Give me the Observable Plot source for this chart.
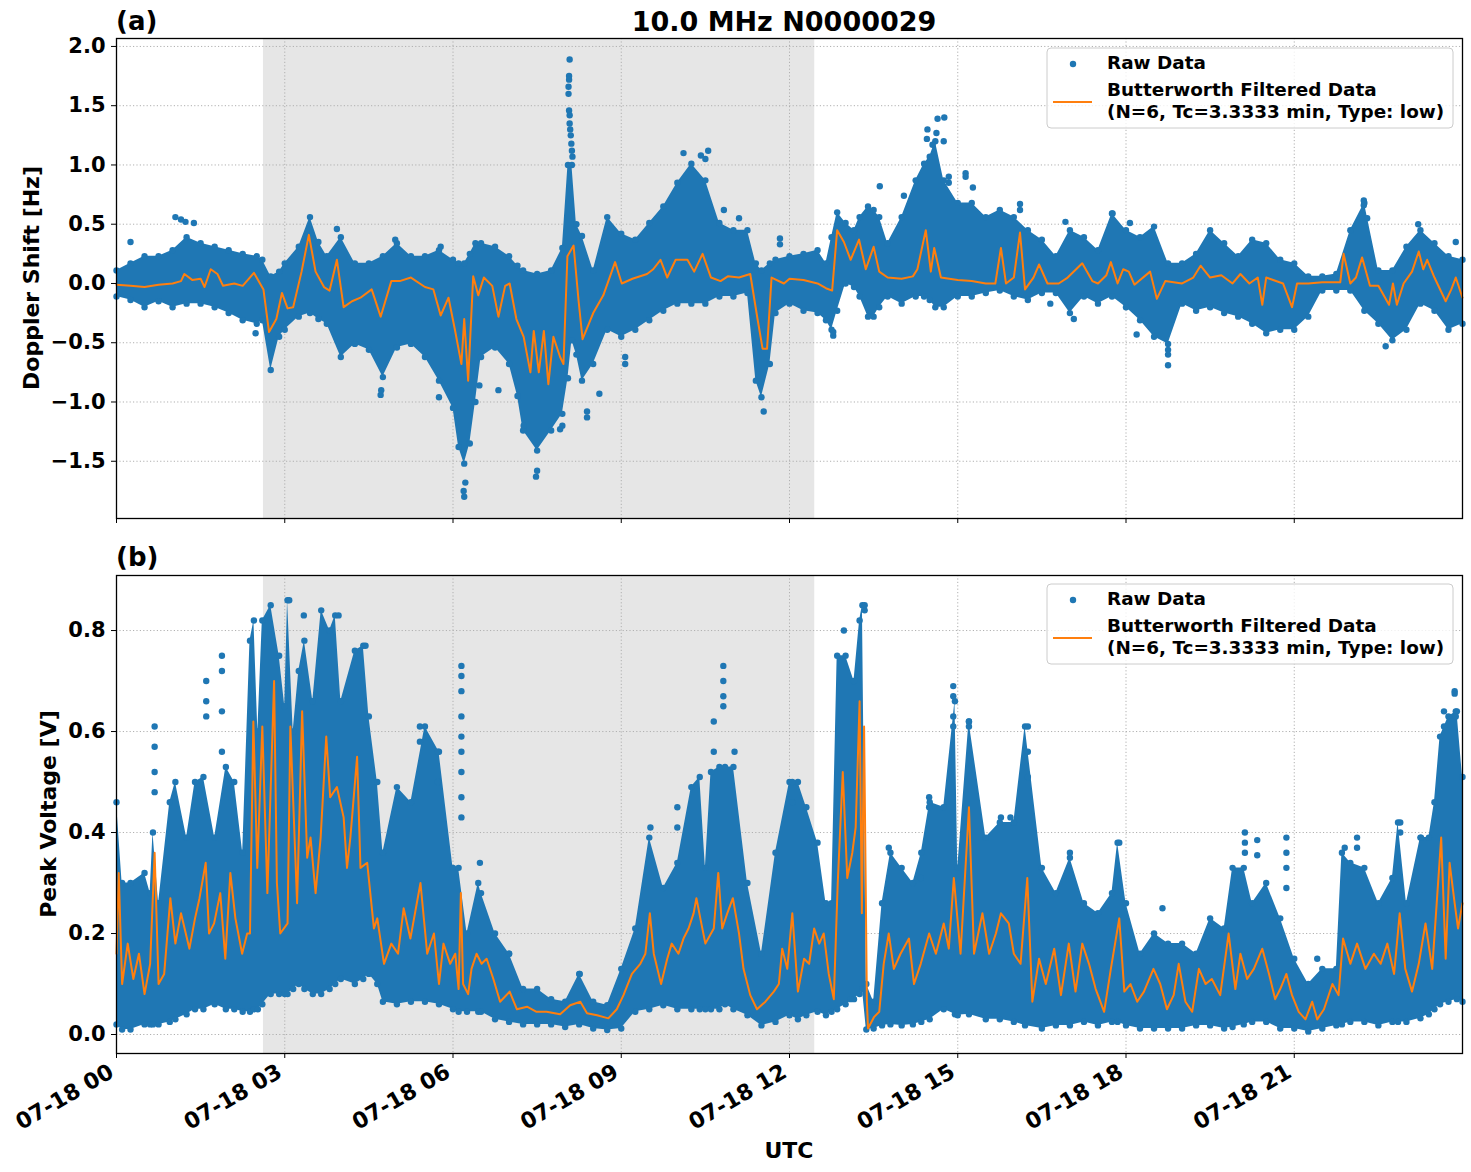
<!DOCTYPE html>
<html>
<head>
<meta charset="utf-8">
<script src="https://cdn.jsdelivr.net/npm/d3@7"></script>
<script src="https://cdn.jsdelivr.net/npm/@observablehq/plot@0.6"></script>
<style>
  body { margin: 0; background: #fff; }
  #fig { position: relative; width: 1471px; height: 1172px; font-family: "DejaVu Sans", sans-serif; font-weight: bold; }
  #fig svg { position: absolute; left: 0; }
</style>
</head>
<body>
<div id="fig"></div>
<script>
// ---------- axes ----------
const xTicks = [0, 3, 6, 9, 12, 15, 18, 21];
const xTickLabels = ["07-18 00", "07-18 03", "07-18 06", "07-18 09", "07-18 12", "07-18 15", "07-18 18", "07-18 21"];
const dopplerTicks = [-1.5, -1.0, -0.5, 0.0, 0.5, 1.0, 1.5, 2.0];
const voltageTicks = [0.0, 0.2, 0.4, 0.6, 0.8];
const shadedHours = [2.62, 12.45];   // grey interval, hours UTC

// ---------- (a) Doppler shift: dense raw-data band [hour, upper, lower] ----------
const dopplerBand = [
  [0,0.11,-0.11],[0.25,0.17,-0.14],[0.5,0.23,-0.20],[0.75,0.23,-0.15],[1,0.28,-0.20],[1.25,0.39,-0.17],
  [1.5,0.34,-0.17],[1.75,0.31,-0.20],[2,0.28,-0.25],[2.25,0.25,-0.31],[2.5,0.23,-0.34],[2.6,0.20,-0.31],
  [2.75,0.06,-0.73],[2.9,0.10,-0.45],[3,0.17,-0.39],[3.25,0.31,-0.28],[3.45,0.56,-0.25],[3.6,0.35,-0.30],
  [3.75,0.23,-0.34],[4,0.39,-0.62],[4.25,0.17,-0.51],[4.5,0.17,-0.56],[4.75,0.23,-0.79],[5,0.34,-0.54],
  [5.25,0.23,-0.51],[5.5,0.23,-0.62],[5.75,0.28,-0.82],[6,0.20,-1.05],[6.1,0.17,-1.38],[6.2,0.17,-1.52],
  [6.3,0.25,-1.35],[6.4,0.34,-1.00],[6.5,0.34,-0.62],[6.75,0.31,-0.54],[7,0.23,-0.68],[7.15,0.15,-0.95],
  [7.25,0.11,-1.24],[7.5,0.08,-1.41],[7.75,0.11,-1.24],[7.95,0.30,-1.10],[8.05,1.00,-0.80],[8.12,1.00,-0.48],
  [8.2,0.50,-0.60],[8.3,0.40,-0.82],[8.5,0.11,-0.68],[8.75,0.56,-0.39],[9,0.42,-0.45],[9.25,0.37,-0.39],
  [9.5,0.51,-0.31],[9.75,0.65,-0.23],[10,0.85,-0.17],[10.25,1.01,-0.17],[10.5,0.87,-0.17],[10.75,0.51,-0.11],
  [11,0.45,-0.11],[11.25,0.45,-0.08],[11.4,0.17,-0.82],[11.5,0.11,-0.96],[11.65,0.17,-0.68],[11.75,0.20,-0.25],
  [12,0.23,-0.17],[12.25,0.25,-0.23],[12.5,0.28,-0.25],[12.65,0.17,-0.31],[12.75,0.39,-0.39],[12.85,0.60,-0.23],
  [13,0.51,0.00],[13.15,0.45,-0.03],[13.25,0.56,-0.11],[13.4,0.65,-0.28],[13.5,0.62,-0.28],[13.6,0.56,-0.20],
  [13.75,0.34,-0.11],[14,0.56,-0.17],[14.25,0.87,-0.11],[14.4,1.01,-0.11],[14.5,1.07,-0.14],[14.6,1.20,-0.20],
  [14.75,0.87,-0.20],[15,0.68,-0.11],[15.25,0.68,-0.11],[15.5,0.56,-0.08],[15.75,0.62,-0.06],[16,0.56,-0.11],
  [16.25,0.45,-0.14],[16.5,0.37,-0.08],[16.75,0.23,-0.08],[17,0.45,-0.25],[17.25,0.39,-0.11],[17.5,0.28,-0.17],
  [17.75,0.59,-0.11],[18,0.45,-0.20],[18.25,0.39,-0.31],[18.5,0.48,-0.45],[18.75,0.17,-0.51],[19,0.17,-0.17],
  [19.25,0.25,-0.23],[19.5,0.45,-0.20],[19.75,0.34,-0.25],[20,0.23,-0.28],[20.25,0.37,-0.34],[20.5,0.34,-0.42],
  [20.75,0.20,-0.39],[21,0.17,-0.39],[21.25,0.06,-0.28],[21.5,0.06,-0.06],[21.75,0.08,-0.06],[22,0.45,-0.06],
  [22.25,0.68,-0.23],[22.5,0.11,-0.34],[22.75,0.11,-0.48],[23,0.31,-0.39],[23.25,0.45,-0.17],[23.5,0.34,-0.23],
  [23.75,0.23,-0.39],[24,0.20,-0.34]
];

// (a) isolated raw samples outside the band [hour, Hz]
const dopplerSparse = [
  [0.25,0.35],[1.05,0.56],[1.15,0.54],[1.23,0.52],[1.38,0.51],[2.48,-0.42],[3.93,0.46],[4.97,0.37],
  [4.71,-0.94],[4.72,-0.90],[5.75,-0.96],[5.78,0.31],[6.2,-1.80],[6.19,-1.75],[6.22,-1.68],[7.48,-1.63],
  [7.5,-1.58],[8.39,-1.13],[8.39,-1.08],[9.07,-0.68],[9.07,-0.62],[10.11,1.10],[10.55,1.12],[10.42,1.08],
  [10.5,1.05],[11.54,-1.08],[10.83,0.62],[11.1,0.55],[11.83,0.38],[11.83,0.33],[8.61,-0.93],[6.81,-0.90],
  [6.47,-0.86],[7.26,-1.20],[7.91,-1.23],[7.95,-1.20],
  [8.08,1.89],[8.07,1.75],[8.07,1.72],[8.06,1.66],[8.06,1.60],[8.07,1.46],[8.08,1.42],[8.08,1.35],
  [8.09,1.30],[8.10,1.25],[8.11,1.18],[8.12,1.12],[8.13,1.07],
  [14.64,1.39],[14.76,1.40],[14.46,1.30],[14.62,1.27],[14.75,1.20],[14.45,1.22],[14.55,1.17],[13.61,0.82],
  [14.04,0.74],[15.14,0.93],[15.14,0.90],[15.27,0.81],[14.84,0.90],[14.84,0.85],[12.78,-0.44],[12.78,-0.41],
  [16.92,0.52],[17.07,-0.30],[16.65,-0.17],[17.76,0.59],[16.11,0.67],[16.11,0.62],
  [22.24,0.70],[22.24,0.66],[18.75,-0.69],[18.75,-0.56],[18.75,-0.60],[22.63,-0.53],[18.07,0.51],[18.19,-0.43],
  [23.21,0.50],[23.88,0.35],[22.3,0.55]
];

// (a) Butterworth low-pass output [hour, Hz]
const dopplerFiltered = [
  [0,-0.01],[0.25,-0.02],[0.5,-0.03],[0.75,-0.01],[1,0],[1.15,0.02],[1.21,0.08],[1.35,0.03],[1.5,0.04],
  [1.57,-0.03],[1.68,0.12],[1.8,0.08],[1.9,-0.02],[2.1,0],[2.25,-0.02],[2.45,0.09],[2.62,-0.05],[2.72,-0.41],
  [2.85,-0.30],[2.95,-0.08],[3.05,-0.21],[3.15,-0.20],[3.3,0.10],[3.43,0.41],[3.55,0.10],[3.7,-0.03],[3.8,-0.06],
  [3.93,0.20],[4.05,-0.20],[4.2,-0.15],[4.35,-0.12],[4.55,-0.05],[4.71,-0.28],[4.9,0.02],[5.05,0.02],[5.25,0.05],
  [5.5,-0.03],[5.65,-0.05],[5.78,-0.27],[5.92,-0.12],[6.03,-0.38],[6.15,-0.68],[6.2,-0.30],[6.27,-0.82],
  [6.36,0.06],[6.45,-0.10],[6.55,0.05],[6.7,-0.02],[6.81,-0.28],[6.93,-0.02],[7.01,0],[7.13,-0.30],[7.26,-0.45],
  [7.38,-0.75],[7.44,-0.40],[7.53,-0.75],[7.62,-0.40],[7.7,-0.85],[7.79,-0.45],[7.91,-0.62],[7.97,-0.68],
  [8.04,0.23],[8.15,0.32],[8.24,-0.15],[8.31,-0.47],[8.5,-0.25],[8.68,-0.10],[8.89,0.18],[9.01,0],[9.2,0.04],
  [9.46,0.08],[9.57,0.12],[9.7,0.20],[9.82,0.05],[9.97,0.20],[10.18,0.20],[10.3,0.10],[10.45,0.25],[10.6,0.05],
  [10.77,0.02],[10.9,0.06],[11.1,0.05],[11.3,0.08],[11.43,-0.30],[11.52,-0.55],[11.6,-0.55],[11.68,0.05],
  [11.9,0],[12,0.04],[12.25,0.03],[12.5,0],[12.65,-0.04],[12.76,-0.06],[12.85,0.45],[12.97,0.35],[13.09,0.20],
  [13.24,0.37],[13.36,0.12],[13.5,0.31],[13.6,0.10],[13.75,0.05],[14,0.04],[14.2,0.06],[14.28,0.12],[14.43,0.45],
  [14.52,0.10],[14.58,0.30],[14.7,0.05],[15,0.03],[15.25,0.02],[15.5,0],[15.67,0],[15.77,0.30],[15.86,0],
  [16,0.05],[16.11,0.43],[16.2,-0.05],[16.35,0.05],[16.45,0.16],[16.6,0],[16.8,0],[16.96,0.05],[17.22,0.17],
  [17.4,0.02],[17.5,0],[17.65,0.07],[17.73,0.18],[17.85,0],[17.95,0.12],[18.05,0.10],[18.15,-0.01],[18.43,0.10],
  [18.55,-0.13],[18.7,0.02],[18.85,0.01],[19,0],[19.2,0.05],[19.33,0.15],[19.5,0.05],[19.7,0.07],[19.9,0],
  [20.04,0.08],[20.2,0],[20.35,0.05],[20.43,-0.18],[20.5,0.05],[20.8,0],[20.96,-0.20],[21.05,0],[21.25,0],
  [21.5,0.01],[21.75,0.01],[21.82,0.01],[21.88,0.25],[22,0],[22.1,0.05],[22.21,0.22],[22.35,-0.02],[22.5,-0.02],
  [22.69,-0.18],[22.76,0],[22.83,-0.18],[22.95,0],[23.1,0.10],[23.22,0.27],[23.3,0.12],[23.37,0.20],[23.5,0.05],
  [23.7,-0.15],[23.8,-0.05],[23.88,0.05],[24,-0.12]
];

// ---------- (b) Peak voltage: dense raw-data band [hour, upper, lower] ----------
const voltageBand = [
  [0,0.46,0.02],[0.1,0.30,0.01],[0.25,0.30,0.01],[0.5,0.32,0.02],[0.6,0.28,0.02],[0.65,0.40,0.02],[0.75,0.26,0.02],
  [0.95,0.46,0.025],[1.05,0.50,0.03],[1.25,0.39,0.04],[1.4,0.50,0.05],[1.55,0.51,0.05],[1.75,0.39,0.06],
  [1.95,0.53,0.05],[2.1,0.50,0.05],[2.25,0.36,0.045],[2.38,0.78,0.045],[2.45,0.82,0.05],[2.52,0.60,0.05],
  [2.6,0.82,0.06],[2.75,0.85,0.08],[2.9,0.75,0.08],[3,0.65,0.08],[3.05,0.86,0.08],[3.15,0.60,0.09],[3.25,0.72,0.10],
  [3.35,0.78,0.09],[3.5,0.66,0.08],[3.65,0.84,0.08],[3.8,0.80,0.09],[3.9,0.83,0.10],[4,0.66,0.11],[4.25,0.76,0.10],
  [4.4,0.77,0.11],[4.5,0.63,0.12],[4.65,0.50,0.10],[4.75,0.36,0.065],[5,0.49,0.06],[5.25,0.46,0.065],
  [5.5,0.61,0.065],[5.75,0.56,0.06],[6,0.33,0.05],[6.1,0.33,0.045],[6.25,0.20,0.045],[6.45,0.30,0.045],
  [6.5,0.28,0.045],[6.75,0.20,0.03],[7,0.16,0.025],[7.25,0.09,0.02],[7.5,0.09,0.02],[7.75,0.07,0.02],
  [8,0.065,0.015],[8.25,0.12,0.02],[8.5,0.065,0.012],[8.75,0.058,0.009],[9,0.13,0.012],[9.25,0.21,0.045],
  [9.5,0.39,0.05],[9.75,0.29,0.058],[10,0.34,0.05],[10.25,0.49,0.05],[10.4,0.51,0.05],[10.5,0.33,0.05],
  [10.6,0.52,0.05],[10.75,0.53,0.05],[10.85,0.53,0.06],[11,0.53,0.05],[11.25,0.30,0.038],[11.5,0.16,0.018],
  [11.75,0.36,0.025],[12,0.50,0.038],[12.15,0.50,0.03],[12.3,0.45,0.038],[12.5,0.38,0.045],[12.65,0.26,0.038],
  [12.75,0.26,0.045],[12.85,0.75,0.05],[13,0.75,0.06],[13.15,0.70,0.07],[13.25,0.82,0.08],[13.3,0.85,0.09],
  [13.37,0.10,0.01],[13.5,0.065,0.012],[13.65,0.26,0.018],[13.8,0.36,0.02],[14,0.33,0.018],[14.2,0.30,0.02],
  [14.35,0.36,0.025],[14.5,0.46,0.03],[14.75,0.45,0.05],[14.95,0.66,0.04],[15,0.33,0.038],[15.2,0.62,0.04],
  [15.5,0.39,0.03],[15.75,0.42,0.03],[16,0.42,0.025],[16.2,0.61,0.018],[16.5,0.33,0.012],[16.75,0.28,0.018],
  [17,0.35,0.018],[17.25,0.26,0.025],[17.5,0.24,0.018],[17.75,0.28,0.025],[17.85,0.38,0.025],[18,0.26,0.018],
  [18.25,0.16,0.012],[18.5,0.20,0.012],[18.75,0.18,0.012],[19,0.18,0.012],[19.25,0.16,0.018],[19.5,0.23,0.018],
  [19.75,0.21,0.012],[19.9,0.33,0.015],[20.1,0.33,0.02],[20.25,0.26,0.025],[20.5,0.30,0.025],[20.75,0.23,0.012],
  [21,0.15,0.012],[21.25,0.10,0.006],[21.5,0.13,0.012],[21.75,0.13,0.018],[21.85,0.36,0.02],[22,0.34,0.025],
  [22.25,0.33,0.025],[22.5,0.26,0.018],[22.75,0.31,0.025],[22.85,0.42,0.025],[23,0.26,0.025],[23.25,0.39,0.032],
  [23.4,0.39,0.04],[23.5,0.46,0.05],[23.6,0.59,0.06],[23.75,0.63,0.065],[23.9,0.64,0.07],[24,0.51,0.065]
];

// (b) isolated raw samples above the band [hour, V]
const voltageSparse = [
  [0.68,0.61],[0.68,0.57],[0.68,0.52],[0.68,0.48],[1.6,0.70],[1.6,0.66],[1.6,0.63],[1.88,0.75],[1.88,0.72],
  [1.88,0.64],[1.88,0.56],[3.34,0.83],[3.96,0.83],[4.44,0.77],[5.41,0.61],[5.41,0.58],[5.73,0.56],[5.73,0.50],
  [3.08,0.86],[6.15,0.73],[6.15,0.71],[6.15,0.68],[6.15,0.63],[6.15,0.59],[6.15,0.56],[6.15,0.52],[6.15,0.47],
  [6.15,0.43],[10.82,0.73],[10.82,0.70],[10.82,0.67],[10.82,0.65],[10.65,0.62],[10.65,0.56],[11.02,0.56],
  [12.05,0.50],[12.05,0.46],[9.52,0.41],[10.0,0.45],[10.0,0.41],[6.48,0.34],[7.0,0.16],[8.26,0.12],
  [13.34,0.85],[13.34,0.84],[12.97,0.80],[14.92,0.69],[14.92,0.67],[14.92,0.63],[14.92,0.61],[15.2,0.62],
  [15.2,0.61],[16.25,0.61],[16.25,0.56],[16.25,0.51],[15.77,0.43],[15.94,0.43],[14.49,0.47],[14.49,0.45],
  [17.0,0.36],[17.88,0.38],[13.77,0.37],[14.34,0.31],[13.09,0.07],
  [23.86,0.68],[23.86,0.675],[23.67,0.64],[23.67,0.61],[23.88,0.64],[23.88,0.63],[20.12,0.40],[20.12,0.38],
  [20.12,0.36],[20.34,0.385],[20.34,0.355],[20.86,0.39],[20.86,0.36],[20.86,0.33],[20.86,0.29],[22.12,0.39],
  [22.12,0.37],[21.9,0.37],[22.89,0.42],[22.89,0.40],[23.26,0.39],[18.65,0.25],[21.41,0.15]
];

// (b) Butterworth low-pass output [hour, V]
const voltageFiltered = [
  [0,0.16],[0.04,0.32],[0.1,0.10],[0.2,0.18],[0.3,0.11],[0.4,0.16],[0.5,0.08],[0.6,0.14],[0.68,0.36],[0.75,0.10],
  [0.85,0.12],[0.96,0.27],[1.05,0.18],[1.15,0.24],[1.3,0.17],[1.4,0.23],[1.48,0.27],[1.59,0.34],[1.65,0.20],
  [1.74,0.22],[1.85,0.28],[1.94,0.15],[2.03,0.32],[2.12,0.23],[2.24,0.16],[2.33,0.20],[2.38,0.20],[2.44,0.62],
  [2.51,0.33],[2.6,0.61],[2.69,0.28],[2.81,0.70],[2.86,0.30],[2.92,0.20],[3.05,0.22],[3.1,0.61],[3.22,0.26],
  [3.31,0.64],[3.4,0.35],[3.46,0.39],[3.55,0.28],[3.64,0.39],[3.74,0.59],[3.81,0.47],[3.93,0.49],[4.05,0.43],
  [4.11,0.33],[4.17,0.39],[4.29,0.55],[4.35,0.33],[4.47,0.34],[4.59,0.21],[4.65,0.23],[4.77,0.14],[4.9,0.18],
  [5.02,0.16],[5.12,0.25],[5.24,0.19],[5.42,0.30],[5.54,0.16],[5.66,0.20],[5.75,0.10],[5.83,0.18],[5.95,0.14],
  [6.04,0.16],[6.1,0.09],[6.14,0.28],[6.18,0.10],[6.27,0.08],[6.33,0.13],[6.42,0.16],[6.51,0.14],[6.6,0.15],
  [6.72,0.11],[6.84,0.065],[7.01,0.085],[7.14,0.05],[7.32,0.055],[7.49,0.045],[7.67,0.045],[7.91,0.04],
  [8.09,0.058],[8.27,0.065],[8.39,0.042],[8.57,0.038],[8.77,0.032],[8.92,0.05],[9.04,0.078],[9.19,0.12],
  [9.34,0.14],[9.43,0.16],[9.51,0.24],[9.58,0.16],[9.71,0.10],[9.82,0.15],[9.9,0.18],[10.02,0.16],[10.11,0.19],
  [10.2,0.21],[10.29,0.24],[10.34,0.27],[10.41,0.23],[10.5,0.18],[10.65,0.21],[10.73,0.32],[10.8,0.21],
  [10.89,0.24],[10.99,0.27],[11.1,0.20],[11.18,0.13],[11.3,0.078],[11.42,0.05],[11.57,0.065],[11.72,0.085],
  [11.81,0.10],[11.87,0.17],[11.96,0.13],[12.05,0.24],[12.15,0.085],[12.26,0.15],[12.35,0.14],[12.44,0.21],
  [12.53,0.18],[12.61,0.20],[12.7,0.12],[12.79,0.07],[12.86,0.30],[12.95,0.52],[13.03,0.31],[13.12,0.36],
  [13.18,0.41],[13.25,0.66],[13.29,0.24],[13.33,0.61],[13.38,0.065],[13.4,0.012],[13.51,0.035],[13.6,0.045],
  [13.68,0.14],[13.77,0.20],[13.86,0.13],[13.98,0.16],[14.13,0.19],[14.22,0.10],[14.34,0.14],[14.49,0.20],
  [14.61,0.16],[14.75,0.22],[14.84,0.17],[14.93,0.31],[15.05,0.16],[15.2,0.45],[15.29,0.16],[15.44,0.24],
  [15.56,0.16],[15.68,0.20],[15.77,0.24],[15.91,0.22],[16,0.16],[16.12,0.14],[16.24,0.31],[16.33,0.065],
  [16.45,0.15],[16.57,0.10],[16.72,0.17],[16.84,0.078],[16.98,0.18],[17.1,0.085],[17.22,0.18],[17.34,0.14],
  [17.46,0.09],[17.61,0.045],[17.73,0.13],[17.88,0.23],[17.97,0.085],[18.08,0.10],[18.2,0.065],[18.32,0.085],
  [18.49,0.13],[18.61,0.10],[18.73,0.05],[18.85,0.078],[18.94,0.14],[19.06,0.065],[19.18,0.045],[19.3,0.13],
  [19.42,0.10],[19.53,0.11],[19.68,0.078],[19.83,0.20],[19.95,0.09],[20.04,0.16],[20.16,0.11],[20.28,0.13],
  [20.43,0.17],[20.55,0.12],[20.66,0.07],[20.75,0.09],[20.86,0.12],[20.96,0.078],[21.08,0.045],[21.2,0.03],
  [21.32,0.065],[21.41,0.03],[21.53,0.05],[21.68,0.10],[21.79,0.078],[21.87,0.19],[22,0.14],[22.12,0.18],
  [22.27,0.13],[22.42,0.16],[22.54,0.14],[22.66,0.18],[22.78,0.12],[22.88,0.24],[22.98,0.13],[23.1,0.085],
  [23.22,0.14],[23.34,0.22],[23.46,0.13],[23.62,0.39],[23.7,0.15],[23.77,0.34],[23.86,0.26],[23.92,0.21],[24,0.26]
];

// ---------- drawing ----------
const BLUE = "#1f77b4", ORANGE = "#ff7f0e", GRID = "#b0b0b0";
const FONT = "DejaVu Sans";
const fmt = d => d.toFixed(1).replace("-", "\u2212");

function panel({band, sparse, filtered, yDomain, yTicks, top, height, marginTop, marginBottom, xLabels}) {
  const bandRows = band.map(([t, hi, lo]) => ({t, hi, lo}));
  const edgeRows = band.flatMap(([t, hi, lo]) => [{t, v: hi}, {t, v: lo}]);
  const sparseRows = sparse.map(([t, v]) => ({t, v}));
  const lineRows = filtered.map(([t, v]) => ({t, v}));
  const marks = [
    Plot.rect([shadedHours], {x1: d => d[0], x2: d => d[1], fill: "#e6e6e6"}),
    Plot.gridX(xTicks, {stroke: GRID, strokeOpacity: 1, strokeWidth: 1, strokeDasharray: "1.2,2.2"}),
    Plot.gridY(yTicks, {stroke: GRID, strokeOpacity: 1, strokeWidth: 1, strokeDasharray: "1.2,2.2"}),
    Plot.areaY(bandRows, {x: "t", y1: "lo", y2: "hi", fill: BLUE}),
    Plot.dot(edgeRows, {x: "t", y: "v", r: 3.2, fill: BLUE}),
    Plot.dot(sparseRows, {x: "t", y: "v", r: 3.2, fill: BLUE}),
    Plot.line(lineRows, {x: "t", y: "v", stroke: ORANGE, strokeWidth: 2}),
    Plot.axisY(yTicks, {tickSize: 5, tickPadding: 6, tickFormat: fmt, label: null, fontSize: 21, fontWeight: "bold"}),
    Plot.axisX(xTicks, {tickSize: 5, tickFormat: () => "", label: null}),
    Plot.frame({stroke: "black", strokeWidth: 1.3})
  ];
  if (xLabels) {
    marks.push(Plot.text(xTicks, {
      x: d => d, text: (d, i) => xTickLabels[i], frameAnchor: "bottom",
      rotate: -30, textAnchor: "end", lineAnchor: "top", dx: -9, dy: 9,
      fontSize: 22, fontWeight: "bold", fill: "black"
    }));
  }
  const svg = Plot.plot({
    width: 1471, height, marginLeft: 116, marginRight: 9, marginTop, marginBottom,
    x: {domain: [0, 24]},
    y: {domain: yDomain},
    style: {fontFamily: FONT, fontSize: "21px", fontWeight: "bold", color: "black", background: "transparent", overflow: "visible"},
    marks
  });
  svg.style.top = top + "px";
  document.getElementById("fig").appendChild(svg);
}

panel({band: dopplerBand, sparse: dopplerSparse, filtered: dopplerFiltered,
       yDomain: [-1.983, 2.067], yTicks: dopplerTicks, top: 0, height: 530, marginTop: 38, marginBottom: 12, xLabels: false});
panel({band: voltageBand, sparse: voltageSparse, filtered: voltageFiltered,
       yDomain: [-0.0376, 0.909], yTicks: voltageTicks, top: 540, height: 632, marginTop: 35, marginBottom: 119, xLabels: true});

// ---------- titles, axis labels and legends ----------
const ov = d3.select("#fig").append("svg")
  .attr("width", 1471).attr("height", 1172).style("top", "0px")
  .style("font-family", FONT).style("font-weight", "bold");

ov.append("text").attr("x", 784).attr("y", 31).attr("text-anchor", "middle").attr("font-size", 27).text("10.0 MHz N0000029");
ov.append("text").attr("x", 116).attr("y", 30).attr("font-size", 26).text("(a)");
ov.append("text").attr("x", 116).attr("y", 566).attr("font-size", 26).text("(b)");
ov.append("text").attr("transform", "translate(31,278) rotate(-90)").attr("text-anchor", "middle")
  .attr("dominant-baseline", "central").attr("font-size", 22).text("Doppler Shift [Hz]");
ov.append("text").attr("transform", "translate(48,814) rotate(-90)").attr("text-anchor", "middle")
  .attr("dominant-baseline", "central").attr("font-size", 22).text("Peak Voltage [V]");
ov.append("text").attr("x", 789).attr("y", 1150).attr("text-anchor", "middle")
  .attr("dominant-baseline", "central").attr("font-size", 22).text("UTC");

function legend(y0) {
  const g = ov.append("g").attr("transform", `translate(0,${y0})`);
  g.append("rect").attr("x", 1047).attr("y", 0).attr("width", 406).attr("height", 80).attr("rx", 4)
    .attr("fill", "white").attr("fill-opacity", 0.8).attr("stroke", "#cccccc").attr("stroke-width", 1);
  g.append("circle").attr("cx", 1073).attr("cy", 16).attr("r", 3.2).attr("fill", BLUE);
  g.append("line").attr("x1", 1053).attr("x2", 1092).attr("y1", 54).attr("y2", 54).attr("stroke", ORANGE).attr("stroke-width", 2);
  g.append("text").attr("x", 1107).attr("y", 21).attr("font-size", 18.4).text("Raw Data");
  g.append("text").attr("x", 1107).attr("y", 48).attr("font-size", 18.4).text("Butterworth Filtered Data");
  g.append("text").attr("x", 1107).attr("y", 70).attr("font-size", 18.4).text("(N=6, Tc=3.3333 min, Type: low)");
}
legend(48);
legend(584);
</script>
</body>
</html>
